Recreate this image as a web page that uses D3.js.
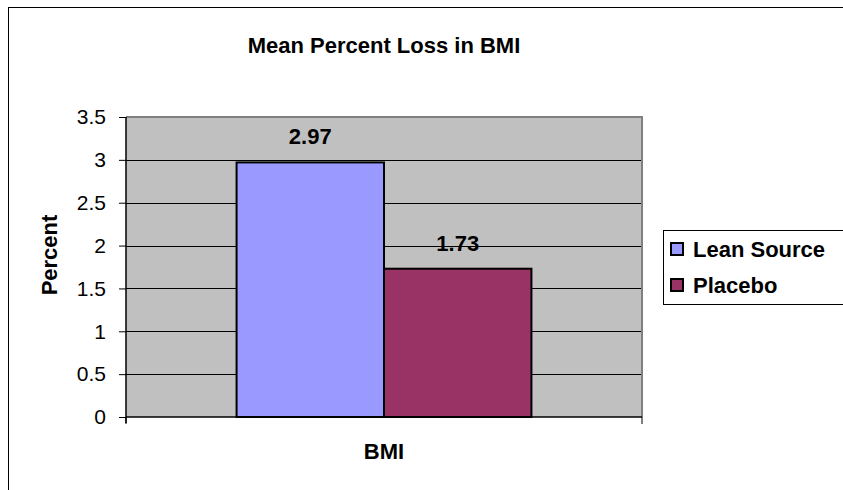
<!DOCTYPE html>
<html>
<head>
<meta charset="utf-8">
<script src="https://cdn.jsdelivr.net/npm/d3@7"></script>
<style>
  body { margin: 0; background: #fff; }
  text { font-family: "Liberation Sans", Arial, sans-serif; }
</style>
</head>
<body>
<div id="chart-container"></div>
<script>
// data
const categories = ["BMI"];
const seriesNames = ["Lean Source", "Placebo"];
const seriesValues = [[2.97], [1.73]];
const seriesColors = ["#9999FF", "#993366"];
const yTicks = [0, 0.5, 1, 1.5, 2, 2.5, 3, 3.5];

const width = 843, height = 490;
const plot = { left: 126, right: 642, top: 117, bottom: 417 };

const svg = d3.select("#chart-container").append("svg")
  .attr("width", width).attr("height", height);

// outer chart border (right/bottom lie outside the frame)
svg.append("rect")
  .attr("x", 8.5).attr("y", 7.5)
  .attr("width", 850).attr("height", 500)
  .attr("fill", "#fff").attr("stroke", "#000").attr("stroke-width", 1);

const x0 = d3.scaleBand().domain(categories).range([plot.left, plot.right]);
const y = d3.scaleLinear().domain([0, 3.5]).range([plot.bottom, plot.top]);

// plot area
svg.append("rect")
  .attr("x", plot.left).attr("y", plot.top)
  .attr("width", plot.right - plot.left).attr("height", plot.bottom - plot.top)
  .attr("fill", "#C0C0C0");

// gridlines
svg.append("g").selectAll("line").data(yTicks.filter(d => d > 0 && d < 3.5)).join("line")
  .attr("x1", plot.left).attr("x2", plot.right)
  .attr("y1", d => Math.round(y(d)) + 0.5).attr("y2", d => Math.round(y(d)) + 0.5)
  .attr("stroke", "#000").attr("stroke-width", 1);

// plot border top/right in gray
svg.append("path")
  .attr("d", `M${plot.left},${plot.top} H${plot.right} V${plot.bottom}`)
  .attr("fill", "none").attr("stroke", "#808080").attr("stroke-width", 2);

// bars: Excel style gap width 150%
const barW = x0.bandwidth() / (seriesNames.length + 1.5);
const x1 = d3.scaleBand().domain(seriesNames)
  .range([barW * 0.75, barW * 0.75 + barW * seriesNames.length]);

const barData = [];
seriesNames.forEach((s, i) => categories.forEach((c, j) => barData.push({ s, c, v: seriesValues[i][j], color: seriesColors[i] })));

svg.append("g").selectAll("rect").data(barData).join("rect")
  .attr("x", d => x0(d.c) + x1(d.s))
  .attr("y", d => y(d.v))
  .attr("width", x1.bandwidth())
  .attr("height", d => y(0) - y(d.v))
  .attr("fill", d => d.color)
  .attr("stroke", "#000").attr("stroke-width", 2);

// data labels
svg.append("g").selectAll("text").data(barData).join("text")
  .attr("x", d => x0(d.c) + x1(d.s) + x1.bandwidth() / 2)
  .attr("y", d => y(d.v) - 18)
  .attr("text-anchor", "middle")
  .attr("font-size", 22).attr("font-weight", "bold")
  .text(d => d.v.toFixed(2));

// y axis
const yAxisG = svg.append("g")
  .attr("transform", `translate(${plot.left},0)`)
  .call(d3.axisLeft(y).tickValues(yTicks).tickSize(7).tickPadding(13).tickFormat(d3.format("")));
yAxisG.select(".domain").attr("stroke", "#000").attr("stroke-width", 1.5).attr("d", `M0,${plot.top}V${plot.bottom + 6}`);
yAxisG.selectAll(".tick line").attr("stroke", "#000");
yAxisG.selectAll("text").attr("font-size", 21).attr("font-family", "Liberation Sans, Arial, sans-serif").attr("fill", "#000");

// x axis
const xAxisG = svg.append("g")
  .attr("transform", `translate(0,${plot.bottom})`);
xAxisG.append("line")
  .attr("x1", plot.left).attr("x2", plot.right)
  .attr("stroke", "#000").attr("stroke-width", 1.5);
xAxisG.selectAll(".xt").data([plot.left, plot.right]).join("line")
  .attr("x1", d => d).attr("x2", d => d).attr("y1", 0).attr("y2", 7)
  .attr("stroke", "#000");
xAxisG.selectAll(".xl").data(categories).join("text")
  .attr("x", d => x0(d) + x0.bandwidth() / 2)
  .attr("y", 42)
  .attr("text-anchor", "middle")
  .attr("font-size", 22).attr("font-weight", "bold")
  .text(d => d);

// title
svg.append("text")
  .attr("x", (plot.left + plot.right) / 2).attr("y", 53)
  .attr("text-anchor", "middle")
  .attr("font-size", 22).attr("font-weight", "bold")
  .text("Mean Percent Loss in BMI");

// y label
svg.append("text")
  .attr("transform", `translate(57,255) rotate(-90)`)
  .attr("text-anchor", "middle")
  .attr("font-size", 22).attr("font-weight", "bold")
  .text("Percent");

// legend
const legend = svg.append("g");
legend.append("rect")
  .attr("x", 663.5).attr("y", 230.5).attr("width", 180).attr("height", 74)
  .attr("fill", "#fff").attr("stroke", "#000").attr("stroke-width", 1);
const li = legend.selectAll("g").data(seriesNames).join("g")
  .attr("transform", (d, i) => `translate(671,${257 + i * 36})`);
li.append("rect")
  .attr("x", 0).attr("y", -14).attr("width", 12).attr("height", 12)
  .attr("fill", (d, i) => seriesColors[i]).attr("stroke", "#000").attr("stroke-width", 2);
li.append("text")
  .attr("x", 22).attr("y", 0)
  .attr("font-size", 22).attr("font-weight", "bold")
  .text(d => d);
</script>
</body>
</html>
